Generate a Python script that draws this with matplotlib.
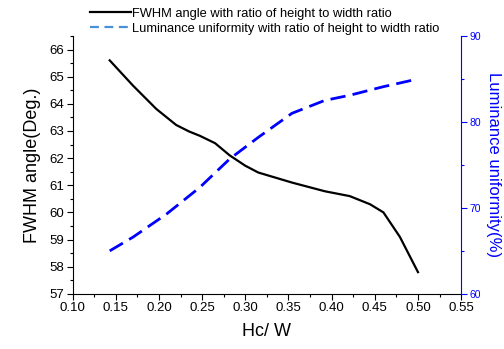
import matplotlib
matplotlib.use('Agg')
import matplotlib.pyplot as plt
from matplotlib.lines import Line2D
from matplotlib.ticker import MultipleLocator

plt.rcParams['font.family'] = ['Liberation Sans', 'DejaVu Sans']

# FWHM angle (left axis)
fwhm_x = [0.143, 0.17, 0.197, 0.22, 0.235, 0.2475, 0.265, 0.282, 0.30, 0.315,
          0.354, 0.392, 0.421, 0.4445, 0.46, 0.479, 0.50]
fwhm_y = [65.6, 64.67, 63.81, 63.22, 62.98, 62.82, 62.55, 62.1, 61.72, 61.47,
          61.1, 60.78, 60.6, 60.3, 60.0, 59.1, 57.8]

# luminance uniformity (right axis)
lum_x = [0.143, 0.17, 0.209, 0.2475, 0.282, 0.315, 0.354, 0.392, 0.421, 0.46, 0.50]
lum_y = [65.0, 66.6, 69.3, 72.4, 75.7, 78.2, 81.0, 82.5, 83.1, 84.1, 85.0]

legend_labels = ['FWHM angle with ratio of height to width ratio',
                 'Luminance uniformity with ratio of height to width ratio']

fig = plt.figure(figsize=(5.04, 3.49), dpi=100)
ax = fig.add_axes([0.144, 0.158, 0.771, 0.739])
ax2 = ax.twinx()

ax.plot(fwhm_x, fwhm_y, color='black', lw=1.6)
ax2.plot(lum_x, lum_y, color='#0000ff', lw=2.0, dashes=(5.5, 2.6))

ax.set_xlim(0.10, 0.55)
ax.set_ylim(57, 66.5)
ax2.set_ylim(60, 90)

ax.xaxis.set_major_locator(MultipleLocator(0.05))
ax.xaxis.set_minor_locator(MultipleLocator(0.025))
ax.yaxis.set_major_locator(MultipleLocator(1))
ax.yaxis.set_minor_locator(MultipleLocator(0.5))
ax2.yaxis.set_major_locator(MultipleLocator(10))
ax2.yaxis.set_minor_locator(MultipleLocator(5))

ax.xaxis.set_major_formatter(plt.FuncFormatter(lambda v, p: f'{v:.2f}'))

for a in (ax, ax2):
    a.spines['top'].set_visible(False)
ax.spines['right'].set_visible(False)
ax2.spines['left'].set_visible(False)
ax2.spines['bottom'].set_visible(False)
ax2.spines['right'].set_color('#0000ff')

ax.tick_params(which='major', direction='out', length=4, width=0.8, labelsize=9.5, pad=2)
ax.tick_params(which='minor', direction='out', length=2.5, width=0.8)
ax2.tick_params(which='major', direction='out', length=4, width=0.8, colors='#0000ff',
                labelsize=7.5, pad=2)
ax2.tick_params(which='minor', direction='out', length=2.5, width=0.8, colors='#0000ff')

ax.set_xlabel('Hc/ W', fontsize=13, labelpad=6)
ax.set_ylabel('FWHM angle(Deg.)', fontsize=13, labelpad=6)
ax2.set_ylabel('Luminance uniformity(%)', fontsize=12, color='#0000ff',
               rotation=270, labelpad=14)

handles = [Line2D([], [], color='black', lw=1.6),
           Line2D([], [], color='#4a90d9', lw=1.6, dashes=(4, 2.5))]
fig.legend(handles, legend_labels, loc='upper left', bbox_to_anchor=(0.168, 0.992),
           frameon=False, fontsize=9.3, handlelength=3.2, handletextpad=0.1,
           labelspacing=0.2, borderaxespad=0.0)

fig.savefig('out.png', dpi=100)
